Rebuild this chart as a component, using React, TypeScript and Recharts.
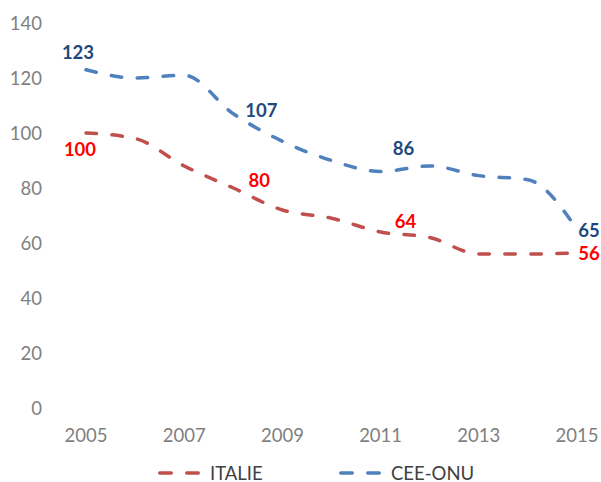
import { Legend, Line, LineChart, XAxis, YAxis, LabelList } from "recharts";

const YEARS = [2005, 2006, 2007, 2008, 2009, 2010, 2011, 2012, 2013, 2014, 2015];
const ITALIE = [100, 98, 88, 80, 72, 69, 64, 62, 56, 56, 56.4];
const CEE_ONU = [123, 120, 121, 107, 97, 90, 86, 88, 84.5, 83, 65];
const X_TICKS = [2005, 2007, 2009, 2011, 2013, 2015];
const Y_TICKS = [0, 20, 40, 60, 80, 100, 120, 140];

// which points carry a value label, and where the label sits relative to the point
const LABEL_OFFSETS: Record<string, Record<number, [number, number]>> = {
  cee: { 0: [-8, -17], 3: [28, -3], 6: [23, -23], 10: [12, 1] },
  italie: { 0: [-6, 16], 3: [26, -8], 6: [25, -11], 10: [12, 0] },
};

const FONT = "Lato, 'Open Sans', sans-serif";
const AXIS = "#7f7f7f";
const RED = "#c0504d";
const BLUE = "#4f81bd";
const DASH = "10.5 15.5";

// page starts flush at the top-left corner, like the reference
if (typeof document !== "undefined") document.body.style.margin = "0";

const data = YEARS.map((year, i) => ({ year, italie: ITALIE[i], cee: CEE_ONU[i] }));

function valueLabel(key: string, color: string) {
  return (props: any) => {
    const off = LABEL_OFFSETS[key][props.index];
    if (!off) return null;
    return (
      <text
        x={props.x + off[0]}
        y={props.y + off[1] + 18.5 * 0.36}
        textAnchor="middle"
        fill={color}
        fontFamily={FONT}
        fontWeight={700}
        fontSize={18.5}
      >
        {Math.round(props.value)}
      </text>
    );
  };
}

function LegendItem({ color, label, width }: { color: string; label: string; width: number }) {
  return (
    <div style={{ display: "flex", alignItems: "center", width }}>
      <svg width={43} height={6} style={{ marginRight: 9 }}>
        <line x1={1.75} y1={3} x2={41.25} y2={3} stroke={color} strokeWidth={3.5} strokeDasharray="11.5 15.5" strokeLinecap="round" />
      </svg>
      <span style={{ lineHeight: "18px" }}>{label}</span>
    </div>
  );
}

function ChartLegend() {
  return (
    <div
      style={{
        display: "flex",
        alignItems: "center",
        height: 18,
        paddingLeft: 158,
        fontFamily: FONT,
        fontSize: 18.5,
        color: "#404040",
      }}
    >
      <LegendItem color={RED} label="ITALIE" width={181} />
      <LegendItem color={BLUE} label="CEE-ONU" width={140} />
    </div>
  );
}

export default function App() {
  return (
    <div style={{ width: 601, height: 482, background: "#fff" }}>
      <LineChart width={601} height={482} data={data} margin={{ top: 23, right: 24, bottom: 0, left: 0 }}>
        <XAxis
          dataKey="year"
          type="number"
          domain={[2005, 2015]}
          ticks={X_TICKS}
          axisLine={false}
          tickLine={false}
          tickSize={0}
          tickMargin={21}
          height={56}
          tick={{ fill: AXIS, fontSize: 18.5, fontFamily: FONT }}
        />
        <YAxis
          domain={[0, 140]}
          ticks={Y_TICKS}
          axisLine={false}
          tickLine={false}
          tickSize={0}
          tickMargin={44}
          width={86}
          tick={{ fill: AXIS, fontSize: 18.5, fontFamily: FONT }}
        />
        <Legend
          content={() => <ChartLegend />}
          wrapperStyle={{ top: 463.5, left: 0, width: 601, height: 18 }}
        />
        <Line
          type="monotone"
          dataKey="italie"
          name="ITALIE"
          stroke={RED}
          strokeWidth={3.5}
          strokeDasharray={DASH}
          strokeLinecap="round"
          dot={false}
          isAnimationActive={false}
        >
          <LabelList dataKey="italie" content={valueLabel("italie", "#ff0000")} />
        </Line>
        <Line
          type="monotone"
          dataKey="cee"
          name="CEE-ONU"
          stroke={BLUE}
          strokeWidth={3.5}
          strokeDasharray={DASH}
          strokeLinecap="round"
          dot={false}
          isAnimationActive={false}
        >
          <LabelList dataKey="cee" content={valueLabel("cee", "#1f497d")} />
        </Line>
      </LineChart>
    </div>
  );
}
